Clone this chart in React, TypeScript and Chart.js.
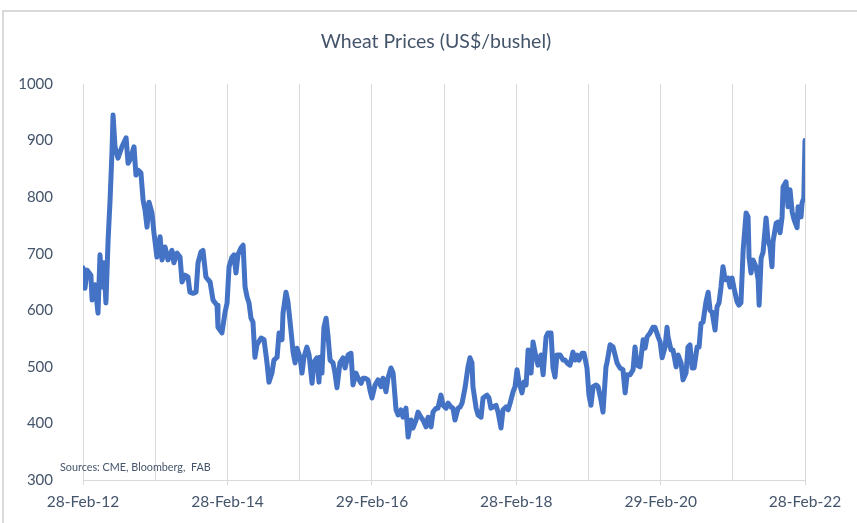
import React, { useEffect, useRef } from 'react';
import { Chart, registerables } from 'chart.js';

Chart.register(...registerables);

const chartTitle = 'Wheat Prices (US$/bushel)';
const sourceNote = 'Sources: CME, Bloomberg,  FAB';

const dates = [
  '2012-02-28','2012-03-09','2012-03-20','2012-04-08','2012-04-14','2012-04-29','2012-05-14','2012-05-24','2012-06-03','2012-06-13',
  '2012-06-23','2012-07-04','2012-07-14','2012-07-24','2012-07-29','2012-08-08','2012-08-23','2012-09-12','2012-10-03','2012-10-13',
  '2012-10-23','2012-11-12','2012-11-22','2012-12-02','2012-12-17','2012-12-28','2013-01-07','2013-01-17','2013-01-27','2013-02-11',
  '2013-02-21','2013-03-08','2013-03-24','2013-04-03','2013-04-18','2013-05-03','2013-05-23','2013-06-02','2013-06-18','2013-07-03',
  '2013-07-13','2013-07-28','2013-08-12','2013-08-22','2013-09-07','2013-09-22','2013-10-02','2013-10-17','2013-10-27','2013-11-11',
  '2013-11-22','2013-12-02','2013-12-17','2014-01-06','2014-01-11','2014-01-31','2014-02-16','2014-02-26','2014-03-08','2014-03-23',
  '2014-04-02','2014-04-12','2014-04-22','2014-05-07','2014-05-18','2014-05-28','2014-06-07','2014-06-17','2014-06-27','2014-07-07',
  '2014-07-17','2014-07-27','2014-08-17','2014-09-01','2014-09-16','2014-09-26','2014-10-11','2014-10-21','2014-11-06','2014-11-16',
  '2014-12-01','2014-12-06','2014-12-21','2014-12-31','2015-01-15','2015-01-26','2015-02-05','2015-02-15','2015-03-02','2015-03-12',
  '2015-03-22','2015-04-06','2015-04-17','2015-05-02','2015-05-12','2015-05-27','2015-06-06','2015-06-11','2015-06-21','2015-07-01',
  '2015-07-12','2015-07-22','2015-08-01','2015-08-16','2015-08-26','2015-09-05','2015-09-20','2015-10-06','2015-10-16','2015-10-31',
  '2015-11-15','2015-11-25','2015-12-10','2015-12-21','2016-01-05','2016-01-15','2016-01-25','2016-02-09','2016-02-19','2016-02-29',
  '2016-03-16','2016-03-31','2016-04-15','2016-04-25','2016-05-10','2016-05-20','2016-06-04','2016-06-15','2016-06-30','2016-07-10',
  '2016-07-25','2016-08-04','2016-08-19','2016-08-30','2016-09-14','2016-09-24','2016-10-09','2016-10-19','2016-11-03','2016-11-13',
  '2016-11-29','2016-12-09','2016-12-24','2017-01-03','2017-01-18','2017-01-28','2017-02-12','2017-02-23','2017-03-10','2017-03-20',
  '2017-04-04','2017-04-14','2017-04-24','2017-05-10','2017-05-20','2017-05-30','2017-06-14','2017-06-29','2017-07-09','2017-07-19',
  '2017-07-24','2017-08-09','2017-08-19','2017-09-03','2017-09-13','2017-10-03','2017-10-13','2017-10-23','2017-11-03','2017-11-18',
  '2017-11-28','2017-12-13','2017-12-23','2018-01-07','2018-01-18','2018-01-28','2018-02-12','2018-02-22','2018-03-04','2018-03-14',
  '2018-03-29','2018-04-08','2018-04-19','2018-04-29','2018-05-14','2018-05-24','2018-06-08','2018-06-18','2018-07-03','2018-07-14',
  '2018-07-29','2018-08-08','2018-08-23','2018-09-02','2018-09-12','2018-09-22','2018-10-08','2018-10-23','2018-11-02','2018-11-12',
  '2018-11-27','2018-12-12','2018-12-23','2019-01-02','2019-01-12','2019-01-27','2019-02-06','2019-02-21','2019-03-03','2019-03-13',
  '2019-03-24','2019-04-08','2019-04-18','2019-05-03','2019-05-13','2019-05-28','2019-06-02','2019-06-18','2019-07-03','2019-07-13',
  '2019-07-23','2019-08-07','2019-08-22','2019-09-02','2019-09-12','2019-09-27','2019-10-12','2019-10-22','2019-11-01','2019-11-16',
  '2019-12-02','2019-12-12','2019-12-22','2020-01-06','2020-01-21','2020-01-31','2020-02-16','2020-02-26','2020-03-07','2020-03-22',
  '2020-04-01','2020-04-06','2020-04-21','2020-05-01','2020-05-17','2020-05-27','2020-06-11','2020-06-21','2020-07-06','2020-07-16',
  '2020-07-26','2020-08-06','2020-08-16','2020-08-31','2020-09-10','2020-09-20','2020-09-30','2020-10-15','2020-10-26','2020-11-05',
  '2020-11-15','2020-11-30','2020-12-10','2020-12-20','2020-12-30','2021-01-09','2021-01-20','2021-02-04','2021-02-14','2021-02-24',
  '2021-03-06','2021-03-21','2021-03-31','2021-04-10','2021-04-21','2021-05-06','2021-05-16','2021-05-21','2021-05-31','2021-06-10',
  '2021-06-25','2021-07-06','2021-07-11','2021-07-21','2021-07-31','2021-08-15','2021-08-25','2021-09-04','2021-09-14','2021-09-19',
  '2021-10-05','2021-10-15','2021-10-25','2021-11-04','2021-11-09','2021-11-24','2021-12-04','2021-12-14','2021-12-25','2022-01-04',
  '2022-01-19','2022-01-24','2022-02-08','2022-02-13','2022-02-22','2022-02-28'
];

const prices = [
  675, 639, 671, 662, 618, 645, 595, 698, 641, 684,
  613, 724, 795, 883, 945, 889, 869, 889, 905, 860,
  866, 889, 839, 848, 843, 795, 777, 747, 791, 772,
  737, 694, 730, 689, 712, 689, 706, 684, 701, 694,
  650, 662, 659, 632, 630, 632, 684, 703, 706, 659,
  654, 650, 618, 609, 570, 560, 597, 613, 677, 694,
  698, 666, 698, 710, 715, 641, 624, 613, 586, 579,
  517, 539, 551, 548, 507, 473, 489, 512, 517, 560,
  548, 595, 632, 615, 565, 526, 507, 533, 517, 489,
  517, 535, 521, 471, 509, 516, 473, 517, 489, 570,
  586, 553, 512, 507, 489, 463, 507, 516, 498, 521,
  524, 468, 489, 480, 471, 480, 480, 477, 459, 445,
  468, 477, 465, 480, 456, 480, 498, 489, 424, 415,
  424, 411, 427, 376, 406, 392, 406, 420, 411, 406,
  394, 411, 394, 420, 427, 427, 450, 432, 427, 436,
  429, 427, 406, 427, 429, 436, 463, 500, 516, 507,
  465, 427, 415, 411, 445, 450, 445, 427, 429, 432,
  420, 392, 424, 429, 424, 436, 456, 465, 495, 473,
  454, 473, 468, 530, 489, 544, 517, 503, 521, 486,
  553, 560, 560, 498, 482, 521, 521, 512, 512, 507,
  503, 526, 512, 521, 512, 524, 524, 498, 450, 432,
  465, 468, 465, 441, 420, 500, 507, 539, 535, 521,
  507, 498, 495, 454, 486, 486, 495, 535, 503, 500,
  548, 533, 553, 560, 570, 570, 553, 544, 516, 535,
  570, 553, 530, 530, 500, 521, 507, 477, 489, 535,
  539, 498, 498, 535, 535, 577, 579, 615, 632, 600,
  597, 565, 606, 613, 641, 677, 654, 657, 641, 657,
  639, 615, 609, 613, 706, 772, 765, 694, 666, 689,
  677, 654, 609, 692, 703, 763, 724, 712, 677, 721,
  754, 756, 737, 765, 818, 827, 783, 813, 774, 760,
  746, 783, 765, 790, 798, 900
];

const gridDates = [
  '2012-02-28','2013-02-28','2014-02-28','2015-02-28','2016-02-29','2017-02-28',
  '2018-02-28','2019-02-28','2020-02-29','2021-02-28','2022-02-28'
];
const tickLabels = ['28-Feb-12', '28-Feb-14', '29-Feb-16', '28-Feb-18', '29-Feb-20', '28-Feb-22'];
const yMin = 300;
const yMax = 1000;
const yStep = 100;

const TEXT = '#44546A';
const GRID = '#d9d9d9';
const LINE = '#4472C4';
const FONT = 'Lato, "Open Sans", sans-serif';

const toMs = (s: string) => Date.parse(s + 'T00:00:00Z');

const textPlugin = {
  id: 'chartTexts',
  afterDatasetsDraw(chart: any) {
    const { ctx, chartArea } = chart;
    ctx.save();
    ctx.fillStyle = TEXT;
    ctx.textBaseline = 'middle';
    ctx.font = `19.5px ${FONT}`;
    ctx.textAlign = 'center';
    ctx.fillText(chartTitle, (chartArea.left + chartArea.right) / 2 - 8, chartArea.top - 42);
    ctx.font = `10.8px ${FONT}`;
    ctx.textAlign = 'left';
    ctx.fillText(sourceNote, chartArea.left - 23, chartArea.bottom - 12);
    ctx.restore();
  },
};

export default function App() {
  const ref = useRef<HTMLCanvasElement | null>(null);

  useEffect(() => {
    if (!ref.current) return;
    const points = dates.map((d, i) => ({ x: toMs(d), y: prices[i] }));
    const chart = new Chart(ref.current, {
      type: 'line',
      data: {
        datasets: [
          {
            data: points,
            borderColor: LINE,
            borderWidth: 5,
            pointRadius: 0,
            tension: 0,
            borderJoinStyle: 'round',
            borderCapStyle: 'round',
            fill: false,
          },
        ],
      },
      options: {
        animation: false,
        responsive: false,
        maintainAspectRatio: false,
        layout: { padding: { left: 0, right: 52, top: 84, bottom: 0 } },
        plugins: {
          legend: { display: false },
          tooltip: { enabled: false },
          title: { display: false },
        },
        scales: {
          x: {
            type: 'linear',
            min: toMs(gridDates[0]),
            max: toMs(gridDates[gridDates.length - 1]),
            afterBuildTicks: (s: any) => {
              s.ticks = gridDates.map((d) => ({ value: toMs(d) }));
            },
            ticks: {
              autoSkip: false,
              maxRotation: 0,
              minRotation: 0,
              color: TEXT,
              font: { family: FONT, size: 15.5 },
              padding: 8,
              callback: (_v: any, i: number) => (i % 2 === 0 ? tickLabels[i / 2] : ''),
            },
            grid: {
              color: GRID,
              lineWidth: 1,
              tickLength: 5,
              tickColor: (c: any) => (c.index % 2 === 0 ? GRID : 'rgba(0,0,0,0)'),
            },
            border: { color: GRID, width: 1 },
            afterFit: (s: any) => {
              s.height = 43;
            },
          },
          y: {
            min: yMin,
            max: yMax,
            ticks: {
              stepSize: yStep,
              color: TEXT,
              font: { family: FONT, size: 15 },
              padding: 30,
              callback: (v: any) => String(v),
            },
            grid: { display: false, drawTicks: false },
            border: { display: false },
            afterFit: (s: any) => {
              s.width = 83;
            },
          },
        },
      },
      plugins: [textPlugin],
    } as any);
    return () => chart.destroy();
  }, []);

  return (
    <div style={{ position: 'absolute', left: 0, top: 0, width: 857, height: 523, background: '#fff', overflow: 'hidden' }}>
      <div
        style={{
          position: 'absolute',
          left: 2,
          top: 10,
          width: 900,
          height: 600,
          border: `2px solid ${GRID}`,
          boxSizing: 'border-box',
        }}
      />
      <canvas ref={ref} width={857} height={523} style={{ position: 'absolute', left: 0, top: 0, display: 'block' }} />
    </div>
  );
}
